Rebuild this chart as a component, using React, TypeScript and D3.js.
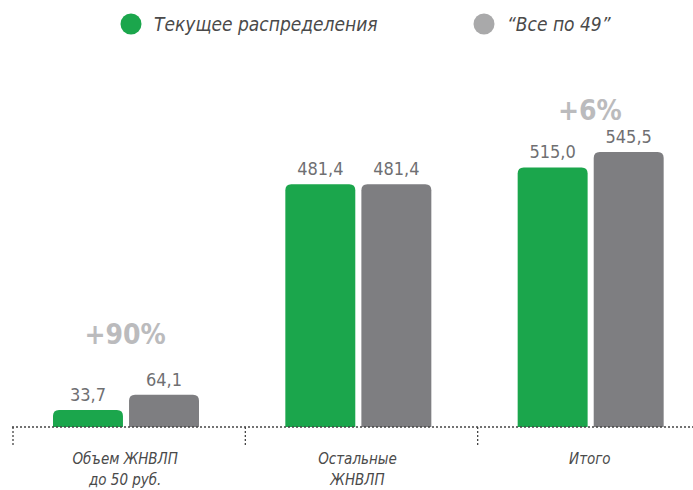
import React, { useEffect, useRef } from 'react';
import * as d3 from 'd3';

const categories = ['Объем ЖНВЛП|до 50 руб.', 'Остальные|ЖНВЛП', 'Итого'];
const seriesNames = ['Текущее распределения', '“Все по 49”'];
const currentValues = [33.7, 481.4, 515.0];
const allBy49Values = [64.1, 481.4, 545.5];
const growthLabels = ['+90%', '', '+6%'];

const colors = ['#1ba64c', '#7e7e81'];
const legendColors = ['#1ba64c', '#a9a9aa'];
const FONT = '"Liberation Sans Narrow", "DejaVu Sans Condensed", "Roboto", sans-serif';

const App = () => {
  const svgRef = useRef<SVGSVGElement>(null);

  useEffect(() => {
    const svg = d3.select(svgRef.current);
    svg.selectAll('*').remove();

    const width = 693;
    const height = 490;
    const baseline = 427;

    svg.attr('width', width).attr('height', height).style('background', '#fff');

    const x0 = d3.scaleBand<number>()
      .domain(d3.range(categories.length))
      .range([9, 706]);

    const x1 = d3.scaleBand<number>()
      .domain([0, 1])
      .range([44, 190])
      .paddingInner(0.08);

    const y = d3.scaleLinear()
      .domain([0, 545.5])
      .range([baseline, 152]);

    const roundTop = (x: number, top: number, w: number, r: number) => {
      const h = baseline - top;
      const rr = Math.min(r, h);
      return `M${x},${baseline}V${top + rr}Q${x},${top} ${x + rr},${top}H${x + w - rr}Q${x + w},${top} ${x + w},${top + rr}V${baseline}Z`;
    };

    // legend
    const legend = svg.append('g');
    const legendX = [131, 484];
    seriesNames.forEach((name, i) => {
      legend.append('circle')
        .attr('cx', legendX[i]).attr('cy', 24).attr('r', 10.5)
        .attr('fill', legendColors[i]);
      legend.append('text')
        .attr('x', legendX[i] + 23).attr('y', 31)
        .attr('font-family', FONT).attr('font-style', 'italic')
        .attr('font-size', 19).attr('fill', '#4a4a4a')
        .text(name);
    });

    // bars
    const groups = svg.append('g').selectAll('g')
      .data(categories.map((c, i) => ({ c, i, vals: [currentValues[i], allBy49Values[i]] })))
      .join('g')
      .attr('transform', d => `translate(${x0(d.i)},0)`);

    groups.selectAll('path')
      .data(d => d.vals.map((v, s) => ({ v, s })))
      .join('path')
      .attr('d', d => roundTop(x1(d.s)!, y(d.v), x1.bandwidth(), 6))
      .attr('fill', d => colors[d.s]);

    groups.selectAll('text.val')
      .data(d => d.vals.map((v, s) => ({ v, s })))
      .join('text')
      .attr('class', 'val')
      .attr('x', d => x1(d.s)! + x1.bandwidth() / 2)
      .attr('y', d => y(d.v) - 9)
      .attr('text-anchor', 'middle')
      .attr('font-family', FONT)
      .attr('font-size', 18)
      .attr('fill', '#6f6f72')
      .text(d => d3.format('.1f')(d.v).replace('.', ','));

    // growth note sits higher above the short group
    groups.append('text')
      .attr('x', x0.bandwidth() / 2)
      .attr('y', d => y(Math.max(...d.vals)) - (d.i === 0 ? 51 : 32))
      .attr('text-anchor', 'middle')
      .attr('font-family', FONT)
      .attr('font-weight', 'bold')
      .attr('font-size', 28)
      .attr('fill', '#bbbbbd')
      .text(d => growthLabels[d.i]);

    // axis
    svg.append('line')
      .attr('x1', 12).attr('x2', width)
      .attr('y1', baseline).attr('y2', baseline)
      .attr('stroke', '#444').attr('stroke-width', 1.3)
      .attr('stroke-dasharray', '2,2');

    svg.append('g').selectAll('line')
      .data(d3.range(categories.length))
      .join('line')
      .attr('x1', d => x0(d)! + 4).attr('x2', d => x0(d)! + 4)
      .attr('y1', baseline).attr('y2', baseline + 19)
      .attr('stroke', '#444').attr('stroke-width', 1.3)
      .attr('stroke-dasharray', '2,2');

    const labels = svg.append('g').selectAll('text')
      .data(categories.map((c, i) => ({ lines: c.split('|'), i })))
      .join('text')
      .attr('x', d => x0(d.i)! + x0.bandwidth() / 2)
      .attr('y', 464)
      .attr('text-anchor', 'middle')
      .attr('font-family', FONT)
      .attr('font-style', 'italic')
      .attr('font-size', 15)
      .attr('fill', '#4a4a4a');

    labels.selectAll('tspan')
      .data(d => d.lines)
      .join('tspan')
      .attr('x', function () { return (this.parentNode as SVGTextElement).getAttribute('x'); })
      .attr('dy', (_, j) => (j === 0 ? 0 : 21))
      .text(t => t);
  }, []);

  return <svg ref={svgRef} style={{ display: 'block', position: 'absolute', left: 0, top: 0 }}></svg>;
};

export default App;
